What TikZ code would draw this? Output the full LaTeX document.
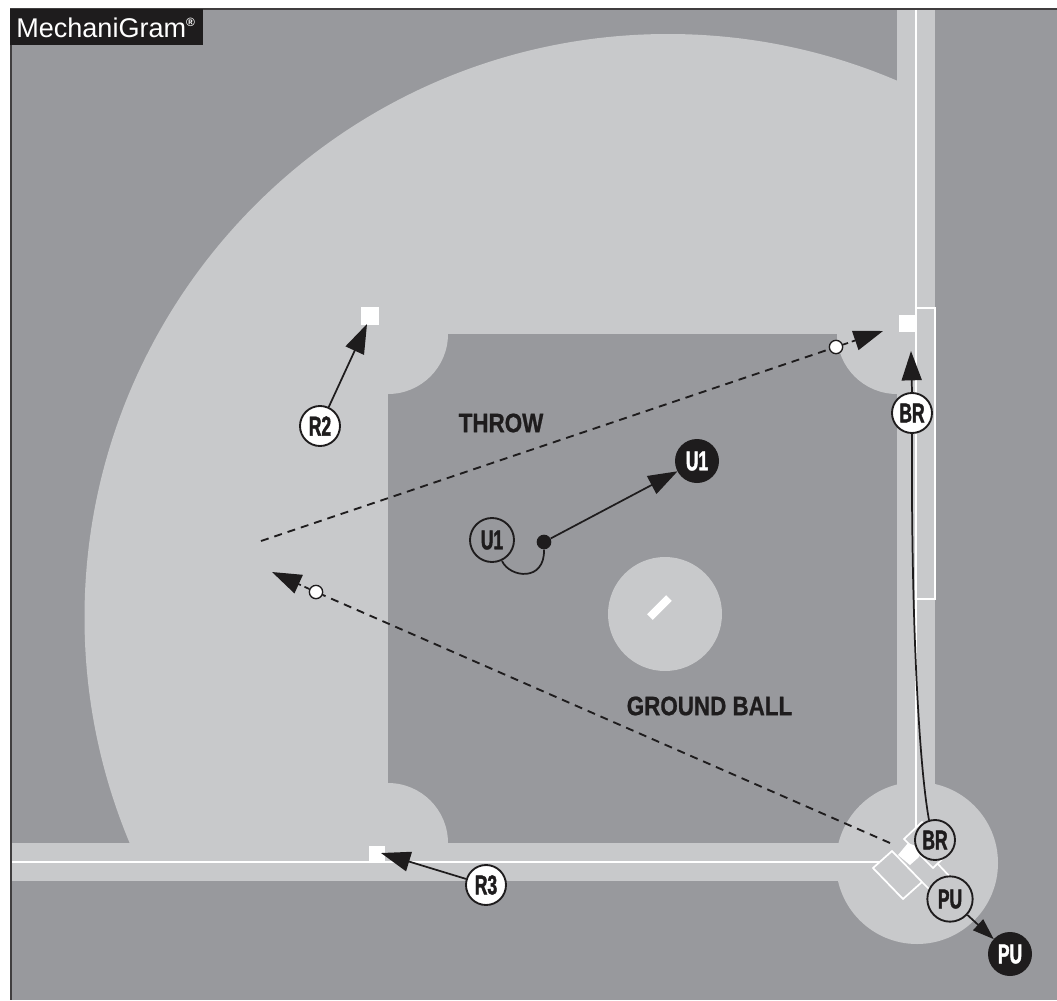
\documentclass[tikz,border=0pt]{standalone}
\usepackage{fontspec}
\usetikzlibrary{arrows.meta,shapes.geometric}
\setmainfont{Liberation Sans}
\newfontfamily\condfont[FakeStretch=0.64,BoldFeatures={FakeBold=1.6}]{Liberation Sans}
\newfontfamily\labfont[FakeStretch=0.84,BoldFeatures={FakeBold=0.8}]{Liberation Sans}
\definecolor{turf}{HTML}{98999D}
\definecolor{dirt}{HTML}{C8C9CB}
\definecolor{ink}{HTML}{1E1C1D}
\tikzset{
  x=0.75pt,y=-0.75pt,
  whiteplayer/.style={circle,draw=ink,line width=1.4pt,fill=white,text=ink,minimum size=30pt,inner sep=0pt,font=\condfont\bfseries\fontsize{20.5}{20.5}\selectfont},
  blackplayer/.style={circle,draw=ink,fill=ink,text=white,line width=1pt,minimum size=32pt,inner sep=0pt,font=\condfont\bfseries\fontsize{20.5}{20.5}\selectfont},
  basebox/.style={fill=white,draw=none,inner sep=0pt,minimum size=13.5pt},
  marker/.style={circle,draw=ink,fill=white,line width=1pt,minimum size=10pt,inner sep=0pt},
  runline/.style={draw=ink,line width=1.3pt,-{Triangle[length=22pt,width=15pt]}},
  shortrun/.style={draw=ink,line width=1.3pt,-{Triangle[length=16pt,width=11pt]}},
  plainline/.style={draw=ink,line width=1.3pt},
  throwline/.style={draw=ink,line width=1.4pt,dash pattern=on 6pt off 4.5pt},
  chalk/.style={draw=white,line width=1.3pt},
  caption/.style={text=ink,font=\labfont\bfseries\fontsize{20}{20}\selectfont,inner sep=0pt},
}
\begin{document}
\begin{tikzpicture}
\useasboundingbox (0,0) rectangle (1057,1000);
\fill[white] (0,0) rectangle (1057,1000);
\fill[turf] (11,9) rectangle (1057,1000);
% outfield
\begin{scope}
  \clip (11,9) rectangle (897,843);
  \fill[dirt] (668,617.5) circle[radius=583.5];
\end{scope}
% infield
\fill[turf] (388,334) rectangle (897,843);
\begin{scope}
  \clip (388,334) rectangle (897,843);
  \fill[dirt] (388,334) circle[radius=60];
  \fill[dirt] (897,334) circle[radius=60];
  \fill[dirt] (388,843) circle[radius=60];
\end{scope}
% foul strips
\fill[dirt] (11,843) rectangle (917,881);
\fill[dirt] (897,9) rectangle (935,863);
\fill[dirt] (917,863) circle[radius=81];
\fill[dirt] (665,614) circle[radius=57];
% frame
\draw[ink!85,line width=1.5pt] (1057,9) -- (11,9) -- (11,1000);
% chalk
\coordinate (lineL) at (12,862);
\coordinate (lineLend) at (880,862);
\coordinate (lineT) at (916,10);
\coordinate (lineTend) at (916,827);
\draw[chalk] (lineL) -- (lineLend);
\draw[chalk] (lineT) -- (lineTend);
\draw[chalk] (916,308) rectangle (935,599);
\draw[chalk] (892,851) -- (873,868) -- (903,899) -- (922,882) -- cycle;
\draw[chalk] (922,822) -- (904,839) -- (933,868) -- (951,851) -- cycle;
\draw[chalk] (937,863) -- (953,880);
\draw[chalk] (922,882) -- (932,892);
\draw[white,line width=6pt,line cap=butt] (650,617) -- (669,598);
\fill[white] (898,855) -- (908,843) -- (921,848) -- (919,857) -- (910,865) -- cycle;
% bases
\node[basebox] (second) at (369.5,316) {};
\node[basebox,minimum size=12.5pt] (first) at (907.5,323.5) {};
\node[basebox,minimum size=12.5pt] (third) at (377,854) {};
% labels
\node[text=white,fill=ink,anchor=north west,inner sep=0pt,minimum width=144.5pt,minimum height=27pt] (logobox) at (10,9) {};
\node[text=white,anchor=west,inner sep=0pt,font=\fontsize{20.3}{20.3}\selectfont] (logo) at (16,28) {MechaniGram\raisebox{0.42em}{\fontsize{9}{9}\selectfont\bfseries\textregistered}};
\node[caption] (throwtxt) at (501,423) {THROW};
\node[caption] (groundtxt) at (709.5,706) {GROUND BALL};
% throw
\node[marker] (m1) at (836,347) {};
\node[marker] (m2) at (316,592) {};
\coordinate (throwstart) at (261,541);
\coordinate (throwtip) at (883,331);
\coordinate (balltip) at (272,572);
\coordinate (ballstart) at (890,843);
\draw[throwline] (throwstart) -- (m1);
\draw[throwline] (ballstart) -- (m2);
\draw[draw=ink,line width=1.3pt,dash pattern=on 4pt off 3pt,-{Triangle[length=22pt,width=15pt]}] (m1) -- (throwtip);
\draw[draw=ink,line width=1.3pt,dash pattern=on 4pt off 3pt,-{Triangle[length=22pt,width=15pt]}] (m2) -- (balltip);
% players
\node[whiteplayer] (R2) at (320,426) {R2};
\node[whiteplayer] (R3) at (486,885) {R3};
\node[whiteplayer] (BRa) at (912,413) {BR};
\node[whiteplayer,fill=dirt] (BRb) at (935,840) {BR};
\node[whiteplayer,fill=dirt,minimum size=34pt] (PUa) at (950,899) {PU};
\node[blackplayer] (PUb) at (1010,954) {PU};
\node[whiteplayer,fill=turf,minimum size=33pt] (U1a) at (492,540) {U1};
\node[blackplayer] (U1b) at (697,461) {U1};
\node[circle,fill=ink,draw=none,minimum size=11pt,inner sep=0pt] (dot) at (544,542) {};
% connectors
\coordinate (r2tip) at (367,324);
\coordinate (r3tip) at (381,853);
\coordinate (brtip) at (911,351);
\draw[runline] (R2) -- (r2tip);
\draw[runline] (R3) -- (r3tip);
\draw[runline] (dot) -- (U1b);
\draw[shortrun] (PUa) -- (PUb);
\draw[plainline] (BRb.north) ++(-6,1) .. controls (919,765) and (911,620) .. (BRa.south);
\draw[runline] (BRa.north) -- (brtip);
\draw[plainline] (502,561) .. controls (510,578) and (545,582) .. (dot.south);
\end{tikzpicture}
\end{document}
